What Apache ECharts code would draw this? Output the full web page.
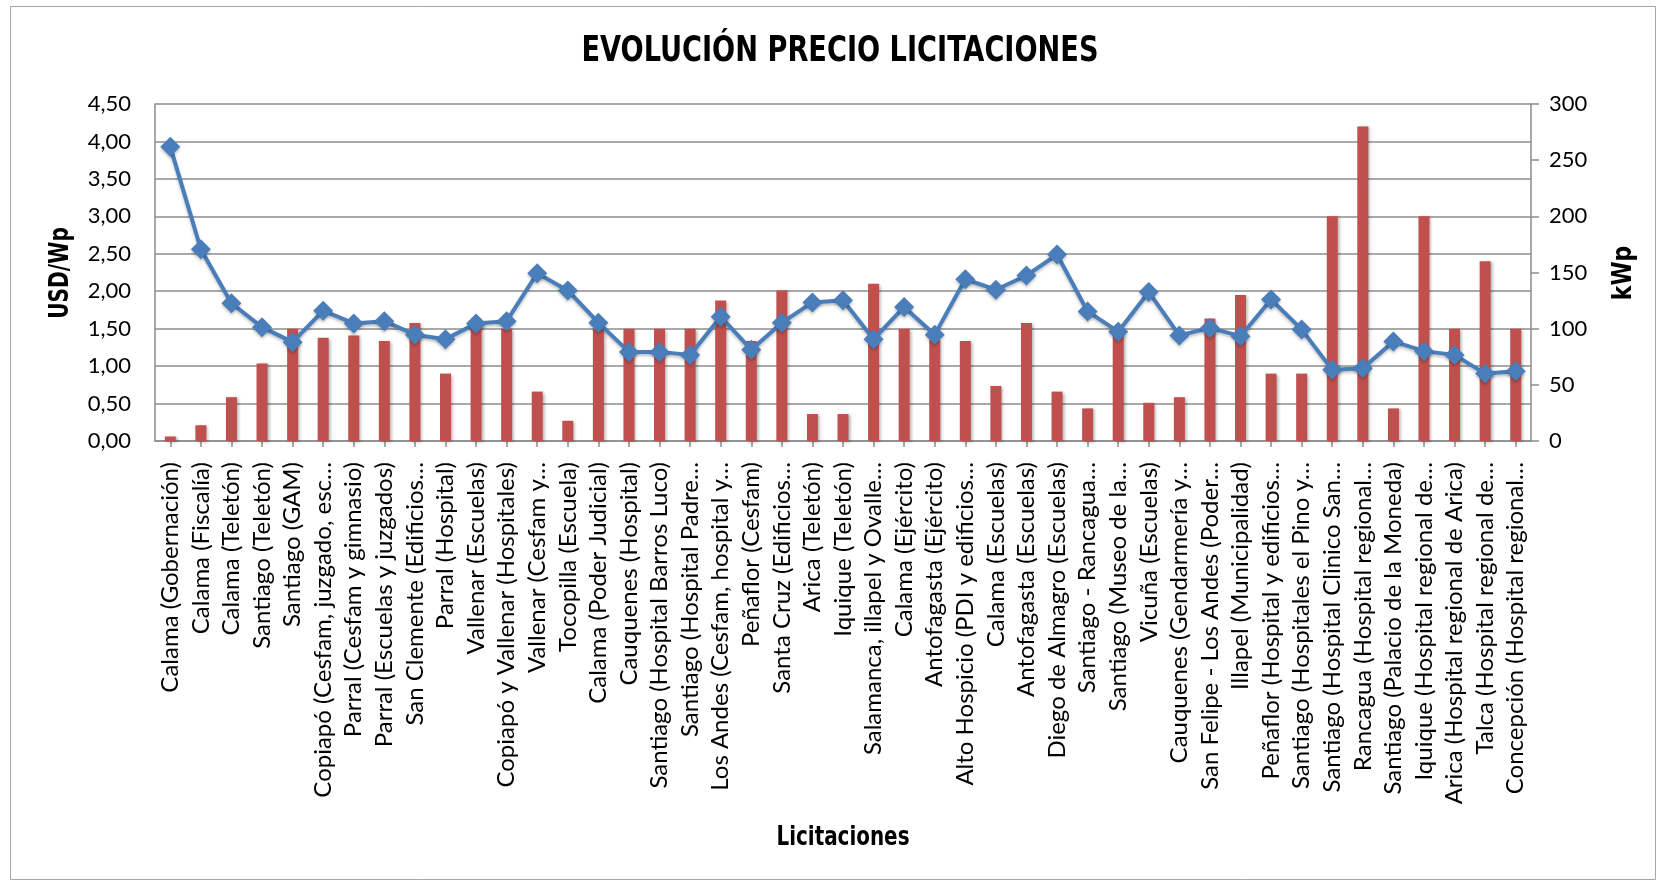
<!DOCTYPE html>
<html>
<head>
<meta charset="utf-8">
<script src="https://cdn.jsdelivr.net/npm/echarts@6/dist/echarts.min.js"></script>
<style>
html,body{margin:0;padding:0;background:#fff;}
#chart{width:1663px;height:882px;}
</style>
</head>
<body>
<div id="chart"></div>
<script>
var categories = [
  "Calama (Gobernación)",
  "Calama (Fiscalía)",
  "Calama (Teletón)",
  "Santiago (Teletón)",
  "Santiago (GAM)",
  "Copiapó (Cesfam, juzgado, esc…",
  "Parral (Cesfam y gimnasio)",
  "Parral (Escuelas y juzgados)",
  "San Clemente (Edificios…",
  "Parral (Hospital)",
  "Vallenar (Escuelas)",
  "Copiapó y Vallenar (Hospitales)",
  "Vallenar (Cesfam y…",
  "Tocopilla (Escuela)",
  "Calama (Poder Judicial)",
  "Cauquenes (Hospital)",
  "Santiago (Hospital Barros Luco)",
  "Santiago (Hospital Padre…",
  "Los Andes (Cesfam, hospital y…",
  "Peñaflor (Cesfam)",
  "Santa Cruz (Edificios…",
  "Arica (Teletón)",
  "Iquique (Teletón)",
  "Salamanca, illapel y Ovalle…",
  "Calama (Ejército)",
  "Antofagasta (Ejército)",
  "Alto Hospicio (PDI y edificios…",
  "Calama (Escuelas)",
  "Antofagasta (Escuelas)",
  "Diego de Almagro (Escuelas)",
  "Santiago - Rancagua…",
  "Santiago (Museo de la…",
  "Vicuña (Escuelas)",
  "Cauquenes (Gendarmería y…",
  "San Felipe - Los Andes (Poder…",
  "Illapel (Municipalidad)",
  "Peñaflor (Hospital y edificios…",
  "Santiago (Hospitales el Pino y…",
  "Santiago (Hospital Clinico San…",
  "Rancagua (Hospital regional…",
  "Santiago (Palacio de la Moneda)",
  "Iquique (Hospital regional de…",
  "Arica (Hospital regional de Arica)",
  "Talca (Hospital regional de…",
  "Concepción (Hospital regional…"
];

// USD/Wp (line, left axis)
var precioUsdWp = [
  3.93, 2.56, 1.84, 1.52, 1.32, 1.74, 1.57, 1.60, 1.42, 1.36,
  1.57, 1.60, 2.24, 2.01, 1.58, 1.19, 1.19, 1.15, 1.66, 1.22,
  1.58, 1.85, 1.88, 1.36, 1.79, 1.42, 2.16, 2.02, 2.21, 2.49,
  1.73, 1.46, 1.99, 1.41, 1.51, 1.40, 1.89, 1.49, 0.95, 0.97,
  1.33, 1.20, 1.15, 0.90, 0.93
];

// kWp (bars, right axis)
var potenciaKWp = [
  4, 14, 39, 69, 100, 92, 94, 89, 105, 60,
  105, 100, 44, 18, 100, 100, 100, 100, 125, 89,
  134, 24, 24, 140, 100, 90, 89, 49, 105, 44,
  29, 95, 34, 39, 109, 130, 60, 60, 200, 280,
  29, 200, 100, 160, 100
];

var leftTicks = { min: 0, max: 4.5, interval: 0.5 };
var rightTicks = { min: 0, max: 300, interval: 50 };

var titleText = "EVOLUCIÓN PRECIO LICITACIONES";
var leftAxisName = "USD/Wp";
var rightAxisName = "kWp";
var xAxisName = "Licitaciones";

var narrow = "'Liberation Sans Narrow', 'DejaVu Sans Condensed', 'Arial Narrow', sans-serif";
var labelFont = "Lato, 'Noto Sans', sans-serif";
var gridColor = '#8c8c8c';

var chart = echarts.init(document.getElementById('chart'), null, { renderer: 'canvas' });

var option = {
  backgroundColor: '#ffffff',
  animation: false,
  grid: { left: 155, right: 132, top: 104, bottom: 441, containLabel: false },
  graphic: [
    { type: 'rect', shape: { x: 10.5, y: 6.5, width: 1645, height: 873 },
      style: { fill: 'none', stroke: '#a6a6a6', lineWidth: 1 }, z: -10 },
    { type: 'text', x: 840, y: 52, scaleX: 0.84,
      style: { text: titleText, font: 'bold 36px ' + narrow, fill: '#000', textAlign: 'center', textVerticalAlign: 'middle' } },
    { type: 'text', x: 61, y: 273, rotation: Math.PI / 2, scaleX: 0.83,
      style: { text: leftAxisName, font: 'bold 27px ' + narrow, fill: '#000', textAlign: 'center', textVerticalAlign: 'middle' } },
    { type: 'text', x: 1624, y: 273, rotation: Math.PI / 2, scaleX: 0.9,
      style: { text: rightAxisName, font: 'bold 27px ' + narrow, fill: '#000', textAlign: 'center', textVerticalAlign: 'middle' } },
    { type: 'text', x: 843, y: 838, scaleX: 0.82,
      style: { text: xAxisName, font: 'bold 27px ' + narrow, fill: '#000', textAlign: 'center', textVerticalAlign: 'middle' } }
  ],
  xAxis: {
    type: 'category',
    data: categories,
    boundaryGap: true,
    axisLine: { show: true, lineStyle: { color: gridColor, width: 1.5 } },
    axisTick: { show: true, alignWithLabel: true, length: 6, lineStyle: { color: gridColor, width: 1.5 } },
    axisLabel: {
      interval: 0, rotate: 90, margin: 21,
      color: '#000', fontFamily: labelFont, fontSize: 24
    },
    splitLine: { show: false }
  },
  yAxis: [
    {
      type: 'value', position: 'left',
      min: leftTicks.min, max: leftTicks.max, interval: leftTicks.interval,
      axisLine: { show: true, lineStyle: { color: gridColor, width: 1.5 } },
      axisTick: { show: false },
      axisLabel: {
        margin: 24, color: '#000', fontFamily: labelFont, fontSize: 22,
        formatter: function (v) { return v.toFixed(2).replace('.', ','); }
      },
      splitLine: { show: true, lineStyle: { color: gridColor, width: 1.5 } }
    },
    {
      type: 'value', position: 'right',
      min: rightTicks.min, max: rightTicks.max, interval: rightTicks.interval,
      axisLine: { show: true, lineStyle: { color: gridColor, width: 1.5 } },
      axisTick: { show: true, inside: false, length: 8, lineStyle: { color: gridColor, width: 1.5 } },
      axisLabel: { margin: 18, color: '#000', fontFamily: labelFont, fontSize: 22 },
      splitLine: { show: false }
    }
  ],
  series: [
    {
      name: 'kWp', type: 'bar', yAxisIndex: 1,
      data: potenciaKWp, barWidth: 11,
      itemStyle: { color: '#c0504d', shadowColor: 'rgba(0,0,0,0.3)', shadowBlur: 3, shadowOffsetX: 2, shadowOffsetY: 1 },
      z: 2
    },
    {
      name: 'USD/Wp', type: 'line', yAxisIndex: 0,
      data: precioUsdWp,
      symbol: 'diamond', symbolSize: 20,
      lineStyle: { color: '#4a7ebb', width: 4, shadowColor: 'rgba(0,0,0,0.25)', shadowBlur: 3, shadowOffsetY: 2 },
      itemStyle: { color: '#4a7ebb', shadowColor: 'rgba(0,0,0,0.25)', shadowBlur: 3, shadowOffsetY: 2 },
      z: 3
    }
  ]
};

chart.setOption(option);
</script>
</body>
</html>
